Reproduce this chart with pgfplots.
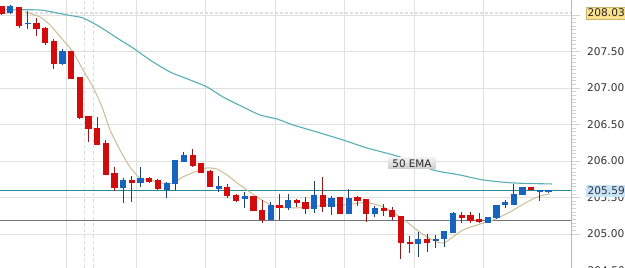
\documentclass[border=0pt]{standalone}
\usepackage{fontspec}
\setmainfont{DejaVu Sans}
\usepackage{pgfplots}
\usepackage{pgfplotstable}
\pgfplotsset{compat=1.18}
\definecolor{candred}{RGB}{210,12,12}
\definecolor{wickred}{RGB}{150,25,25}
\definecolor{candblue}{RGB}{22,100,190}
\definecolor{wickblue}{RGB}{30,65,115}
\definecolor{emateal}{RGB}{85,175,180}
\definecolor{priceteal}{RGB}{40,140,150}
\definecolor{emabeige}{RGB}{205,188,148}
\definecolor{gridgray}{RGB}{224,224,224}
\definecolor{lvlgray}{RGB}{115,115,125}
\definecolor{hiyellow}{RGB}{252,226,140}
\definecolor{lastblue}{RGB}{200,228,248}
\definecolor{labtext}{RGB}{50,50,50}

% bearish candles: x low high bodylow bodyhigh
\pgfplotstableread{
x lo hi blo bhi
0 208.00 208.12 208.01 208.11
2 207.82 208.11 207.85 208.10
4 207.71 207.96 207.81 207.88
5 207.59 207.84 207.62 207.81
6 207.26 207.67 207.33 207.63
8 207.12 207.49 207.12 207.49
9 206.58 207.14 206.59 207.14
10 206.26 206.62 206.44 206.60
11 206.22 206.60 206.22 206.44
12 205.81 206.29 205.81 206.23
13 205.59 205.92 205.63 205.82
15 205.44 205.80 205.70 205.73
17 205.70 205.78 205.71 205.75
18 205.60 205.75 205.62 205.73
22 205.92 206.16 205.93 206.07
23 205.84 205.97 205.84 205.96
24 205.64 205.88 205.64 205.85
26 205.49 205.69 205.52 205.63
27 205.44 205.55 205.45 205.52
29 205.31 205.51 205.31 205.51
30 205.15 205.47 205.19 205.31
32 205.19 205.55 205.36 205.38
34 205.37 205.48 205.42 205.46
35 205.27 205.51 205.34 205.42
37 205.30 205.78 205.37 205.52
39 205.27 205.51 205.27 205.49
41 205.38 205.52 205.45 205.49
42 205.16 205.47 205.27 205.47
44 205.25 205.41 205.31 205.34
45 205.19 205.37 205.23 205.31
46 204.66 205.23 204.88 205.23
47 204.74 204.97 204.86 204.88
49 204.75 205.00 204.88 204.92
53 205.15 205.30 205.22 205.25
54 205.15 205.30 205.18 205.25
55 205.15 205.29 205.16 205.20
61 205.60 205.64 205.60 205.63
}\redc

% bullish candles
\pgfplotstableread{
x lo hi blo bhi
1 208.01 208.14 208.03 208.11
3 207.81 208.06 207.87 207.88
7 207.32 207.53 207.33 207.49
14 205.42 205.77 205.63 205.73
16 205.64 205.92 205.70 205.75
19 205.49 205.71 205.60 205.69
20 205.59 206.00 205.69 206.00
21 205.99 206.12 205.99 206.07
25 205.57 205.80 205.62 205.64
28 205.36 205.57 205.48 205.51
31 205.19 205.44 205.19 205.38
33 205.33 205.55 205.36 205.45
36 205.29 205.73 205.34 205.52
38 205.26 205.52 205.37 205.48
40 205.27 205.62 205.27 205.48
43 205.23 205.38 205.27 205.34
48 204.68 205.03 204.86 204.92
50 204.81 204.99 204.91 204.92
51 204.82 205.03 204.93 205.03
52 205.01 205.30 205.01 205.27
56 205.15 205.22 205.15 205.22
57 205.20 205.38 205.22 205.38
58 205.36 205.47 205.40 205.42
59 205.40 205.69 205.40 205.53
60 205.53 205.63 205.53 205.63
62 205.45 205.60 205.57 205.59
63 205.56 205.60 205.57 205.59
}\bluec

\begin{document}
\begin{tikzpicture}
\begin{axis}[
  scale only axis, width=571pt, height=268pt,
  xmin=-0.196, xmax=65.59, ymin=204.534, ymax=208.205,
  axis x line*=bottom, axis y line*=right,
  x axis line style={draw=none},
  y axis line style={draw=gray!55, line width=0.8pt},
  xtick={7.5,15.5,23.5,31.5,39.5,47.5,55.5}, xticklabels={},
  x tick style={draw=none},
  ytick={205,205.5,206,206.5,207,207.5,208},
  minor y tick num=9,
  grid=major,
  major grid style={gridgray, line width=0.8pt},
  tick align=outside,
  major tick length=9pt, minor tick length=5pt,
  y tick style={gray!35, line width=0.6pt},
  yticklabel style={font=\fontsize{10.6}{12}\selectfont, text=labtext, anchor=west, inner sep=0pt, xshift=7pt},
  y tick label style={/pgf/number format/.cd, fixed, fixed zerofill, precision=2, 1000 sep={}, assume math mode=true},
  clip=false,
]
% dashed separators and high line
\addplot[gray!30, dashed, line width=0.8pt, forget plot] coordinates {(9.52,204.534) (9.52,208.205)};
\addplot[gray!30, dashed, line width=0.8pt, forget plot] coordinates {(10.6,204.534) (10.6,208.205)};
\addplot[black!13, dash pattern=on 3pt off 2pt, line width=1.3pt, forget plot] coordinates {(-0.196,208.027) (65.59,208.027)};
% level lines
\addplot[lvlgray, line width=1pt, forget plot] coordinates {(-0.196,205.19) (65.59,205.19)};
\addplot[priceteal, line width=1pt, forget plot] coordinates {(-0.196,205.59) (65.59,205.59)};
% 50 EMA
\addplot[emateal, line width=1.1pt, mark=none, smooth, tension=0.4] coordinates {
(-0.196,208.068) (4.41,208.068) (7.52,208.000) (9.37,207.959) (11.33,207.836)
(13.28,207.685) (15.13,207.548) (17.08,207.384) (19.39,207.219) (21.69,207.110)
(23.65,207.014) (25.49,206.877) (27.80,206.740) (29.76,206.630) (31.72,206.575)
(33.56,206.493) (35.52,206.425) (39.32,206.288) (42.09,206.178) (45.89,206.055)
(49.69,205.877) (52.80,205.808) (55.45,205.740) (58.91,205.699) (63.40,205.685)};
% fast EMA
\addplot[emabeige, line width=1pt, mark=none, smooth, tension=0.4] coordinates {
(2.68,208.041) (4.41,207.973) (5.56,207.863) (7.06,207.658) (8.21,207.493)
(9.37,207.247) (10.52,207.014) (11.56,206.740) (12.48,206.425) (13.63,206.151)
(14.78,205.918) (15.93,205.767) (17.08,205.740) (18.24,205.699) (19.74,205.699)
(20.89,205.781) (22.50,205.863) (23.65,205.904) (24.80,205.890) (25.96,205.808)
(27.11,205.699) (28.26,205.603) (29.41,205.507) (30.56,205.425) (31.72,205.370)
(33.56,205.356) (35.52,205.370) (37.48,205.397) (39.32,205.397) (41.28,205.425)
(42.43,205.425) (43.93,205.370) (45.54,205.260) (46.69,205.164) (47.84,205.055)
(49.00,204.959) (50.15,204.890) (50.96,204.877) (51.99,204.959) (53.14,205.055)
(54.76,205.123) (56.60,205.192) (58.56,205.301) (60.52,205.438) (62.02,205.521)
(63.17,205.548)};
% wicks
\addplot[draw=none, mark=none, forget plot, error bars/.cd, y dir=plus, y explicit, error mark=none,
  error bar style={draw=wickred, line width=1pt}]
  table[x=x, y=lo, y error expr=\thisrow{hi}-\thisrow{lo}] {\redc};
\addplot[draw=none, mark=none, forget plot, error bars/.cd, y dir=plus, y explicit, error mark=none,
  error bar style={draw=wickblue, line width=1pt}]
  table[x=x, y=lo, y error expr=\thisrow{hi}-\thisrow{lo}] {\bluec};
% bodies
\addplot[draw=none, mark=none, forget plot, error bars/.cd, y dir=plus, y explicit, error mark=none,
  error bar style={draw=candred, line width=6.2pt}]
  table[x=x, y=blo, y error expr=\thisrow{bhi}-\thisrow{blo}+0.012] {\redc};
\addplot[draw=none, mark=none, forget plot, error bars/.cd, y dir=plus, y explicit, error mark=none,
  error bar style={draw=candblue, line width=6.2pt}]
  table[x=x, y=blo, y error expr=\thisrow{bhi}-\thisrow{blo}+0.012] {\bluec};
% labels
\node[fill=lastblue, anchor=west, inner xsep=2pt, inner ysep=0pt, minimum height=11.5pt,
  font=\fontsize{10.6}{12}\selectfont, text=black!80] at (axis cs:65.59,205.59) [xshift=14.5pt] {205.59};
\node[fill=hiyellow, draw=hiyellow!80!black, line width=0.4pt, anchor=west, inner xsep=2pt, inner ysep=0pt, minimum height=12pt,
  font=\fontsize{10.6}{12}\selectfont, text=black!85] at (axis cs:65.59,208.03) [xshift=14.5pt] {208.03};
\node[anchor=west, inner sep=0pt, font=\fontsize{10.6}{12}\selectfont, text=labtext] at (axis cs:65.59,204.50) [xshift=16.5pt] {204.50};
\node[top color=gray!12, bottom color=gray!38, inner xsep=4.5pt, inner ysep=0pt, minimum height=11pt,
  font=\fontsize{10.4}{12}\selectfont, text=black!85] at (axis cs:47.27,205.966) {50 EMA};
\end{axis}
\pgfresetboundingbox
\useasboundingbox (0,0) rectangle (625pt,268pt);
\end{tikzpicture}
\end{document}
